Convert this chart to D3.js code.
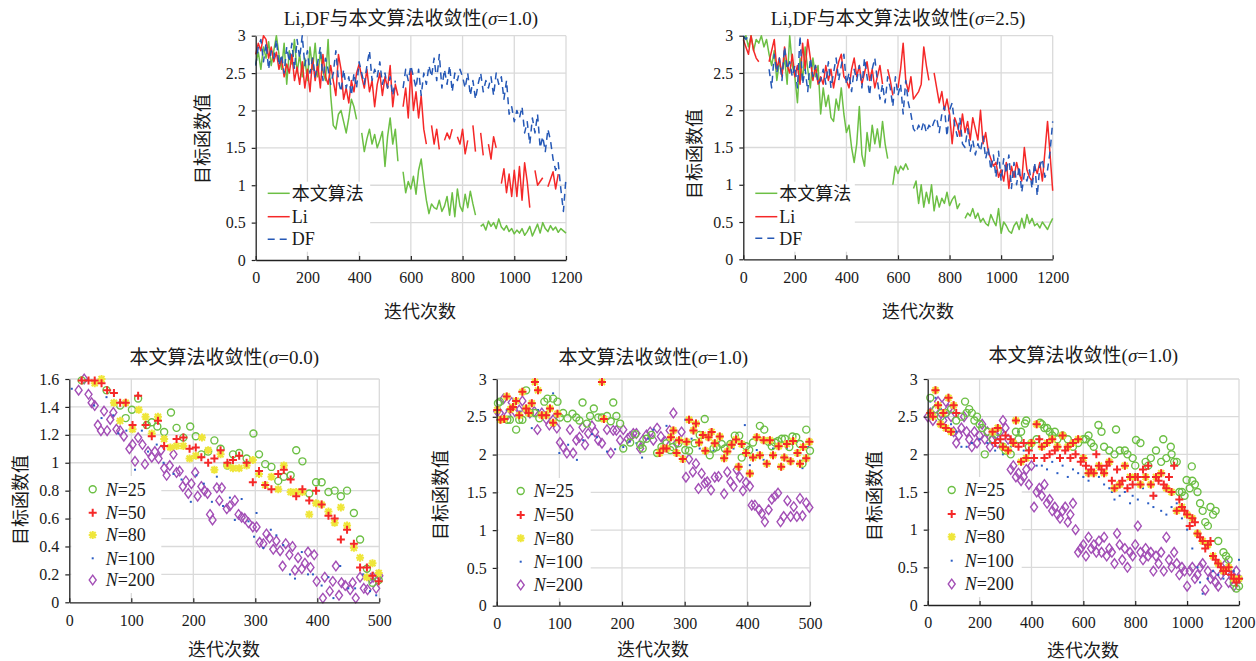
<!DOCTYPE html>
<html>
<head>
<meta charset="utf-8">
<script src="https://cdn.jsdelivr.net/npm/d3@7"></script>
<style>
  body { margin: 0; background: #fff; }
  svg { display: block; }
  svg text { font-family: "Liberation Serif", "Times New Roman", "Noto Sans CJK SC", serif; fill: #1a1a1a; }
</style>
</head>
<body>
<script>
const W = 1256, H = 661;

// ---- data ----
const iters = d3.range(0, 1201, 10);
const ticks1200 = [0, 200, 400, 600, 800, 1000, 1200];
const ticks500 = [0, 100, 200, 300, 400, 500];
const ticks3 = [0, 0.5, 1, 1.5, 2, 2.5, 3];
const ticks16 = [0, 0.2, 0.4, 0.6, 0.8, 1, 1.2, 1.4, 1.6];

// top left, sigma = 1.0
const p1Green = [2.62,2.78,2.55,2.85,2.70,2.92,2.60,2.80,3.00,2.75,
  2.55,2.90,2.35,2.80,2.62,2.95,2.50,2.75,2.45,2.70,
  2.40,2.85,2.55,2.90,2.45,2.78,2.52,2.40,2.95,2.20,
  1.80,1.75,1.95,2.00,1.85,1.70,1.90,2.15,2.05,1.88,
  null,1.70,1.45,1.62,1.75,1.55,1.68,1.50,1.60,1.72,
  1.25,1.65,1.90,1.55,1.75,1.32,null,1.18,0.90,1.05,
  0.95,1.12,0.88,1.20,1.35,1.05,0.80,0.62,0.75,0.70,
  0.68,0.80,0.65,0.72,0.85,0.60,0.90,0.58,0.95,0.72,
  0.65,0.88,0.70,0.92,0.75,0.60,null,0.45,0.48,0.40,
  0.52,0.45,0.50,0.42,0.55,0.44,0.40,0.46,0.38,0.42,
  0.35,0.40,0.36,0.42,0.33,0.38,0.45,0.32,0.40,0.48,
  0.36,0.50,0.42,0.38,0.46,0.40,0.44,0.37,0.42,0.39,
  0.36];
const p1Li = [2.75,2.90,2.80,3.00,2.95,2.70,2.85,2.65,2.78,2.55,
  2.70,2.45,2.62,2.50,2.75,2.40,2.58,2.35,2.65,2.30,
  2.55,2.25,2.70,2.40,2.62,2.30,2.75,2.45,2.35,2.60,
  2.40,2.20,2.75,2.55,2.15,2.30,2.10,2.40,2.25,2.50,
  2.62,2.45,2.30,2.55,2.25,2.40,2.05,2.35,2.50,2.20,
  2.45,2.30,2.60,2.05,2.35,2.20,null,2.05,2.30,1.90,
  2.55,2.00,2.25,1.90,2.20,1.75,1.55,null,1.80,1.55,
  1.75,1.48,null,1.60,1.70,1.62,1.75,null,1.65,1.55,
  1.75,1.42,1.60,null,1.80,1.45,null,1.70,1.40,null,
  1.55,1.35,1.65,1.50,null,1.02,1.22,0.90,1.15,0.85,
  1.20,0.85,1.25,0.80,1.30,1.05,0.70,null,1.20,1.00,
  1.05,1.10,null,0.98,1.08,1.18,0.95,1.15,null,null,
  null];
const p1DF = [2.60,2.85,2.95,2.65,2.90,2.55,2.80,2.70,2.95,2.60,
  2.75,2.50,2.85,2.65,2.90,2.55,2.95,2.70,3.00,2.60,
  2.80,2.50,2.70,2.45,2.65,2.85,2.40,2.70,2.55,2.35,
  2.50,2.80,2.40,2.25,2.55,2.30,2.45,2.20,2.50,2.30,
  2.65,2.50,2.35,2.60,2.80,2.40,2.55,2.45,2.65,2.35,
  2.50,2.30,2.45,2.20,2.40,null,null,2.30,2.55,2.40,
  2.60,2.45,2.30,2.55,2.20,2.50,2.35,2.60,2.45,2.70,
  2.40,2.75,2.30,2.55,2.35,2.60,2.25,2.50,2.40,2.55,
  2.45,2.30,2.50,2.20,2.40,2.15,2.35,2.50,2.25,2.40,
  2.30,2.45,2.20,2.50,2.35,2.45,2.15,2.40,1.95,2.05,
  1.85,2.00,1.90,2.05,1.70,1.85,1.55,1.90,1.70,1.95,
  1.50,1.65,1.45,1.75,1.60,1.35,1.20,1.30,0.95,0.65,
  1.10];

// top right, sigma = 2.5
const p2Green = [2.95,3.00,2.85,3.00,2.80,2.95,2.90,3.00,2.85,2.95,
  2.75,2.60,2.80,2.40,2.65,2.50,2.70,2.35,3.00,2.60,
  2.45,2.10,2.70,2.40,2.85,2.55,2.30,2.70,2.45,2.60,
  1.95,2.30,2.05,2.20,1.90,1.85,2.15,2.00,2.30,1.95,
  1.70,1.80,1.50,1.30,1.55,2.05,1.40,1.25,1.70,1.45,
  1.80,1.55,1.75,1.50,1.85,1.55,1.35,null,1.00,1.25,
  1.15,1.25,1.20,1.28,1.20,null,0.95,1.05,0.75,1.00,
  0.70,0.90,0.75,1.00,0.65,0.85,0.70,0.82,0.75,0.90,
  0.72,0.80,0.85,0.68,0.75,null,0.55,0.62,0.58,0.68,
  0.55,0.62,0.50,0.55,0.48,0.45,0.60,0.52,0.45,0.68,
  0.35,0.50,0.45,0.38,0.35,0.45,0.50,0.40,0.55,0.42,
  0.60,0.48,0.55,0.45,0.48,0.42,0.50,0.45,0.40,0.48,
  0.55];
const p2Li = [2.95,2.85,2.75,3.00,2.80,2.70,2.65,null,null,null,
  2.65,2.80,2.95,2.55,2.70,2.45,2.85,2.60,2.50,2.75,
  2.45,2.60,2.35,2.90,2.55,2.95,2.70,2.40,2.60,2.35,
  2.45,2.35,2.60,2.40,2.55,2.30,2.50,2.65,2.75,2.45,
  2.40,2.30,2.55,2.70,2.45,2.60,2.35,2.50,2.65,2.40,
  2.55,2.30,2.45,2.60,2.35,null,2.55,2.40,2.20,null,
  2.30,2.55,2.90,2.40,2.25,2.45,2.15,2.20,2.25,2.35,
  2.85,2.60,2.40,null,2.50,2.30,2.10,2.25,2.00,2.15,
  1.95,1.55,1.90,1.80,1.65,1.95,1.70,1.85,1.60,1.90,
  1.75,1.60,2.00,1.55,1.70,1.45,1.35,1.25,1.30,1.10,
  1.20,1.05,1.30,0.95,1.25,1.10,1.30,1.15,1.05,1.50,
  1.20,1.10,1.05,1.25,1.15,1.30,1.05,1.45,1.85,1.40,
  0.92];
const p2DF = [3.00,2.95,3.00,null,null,null,null,null,null,null,
  2.55,2.30,2.75,2.50,2.70,2.40,2.85,2.55,2.65,2.45,
  2.60,2.30,3.00,2.35,2.55,2.25,2.70,2.45,2.60,2.35,
  2.40,2.55,2.35,2.65,2.30,2.50,2.70,2.40,2.60,2.75,
  2.35,2.50,2.25,2.55,2.40,2.60,2.30,2.70,2.45,2.20,
  2.55,2.70,2.40,2.15,2.35,2.10,2.45,2.30,2.05,2.45,
  2.20,2.35,1.95,2.40,2.10,1.95,1.75,1.70,1.80,1.72,
  1.85,1.70,1.80,1.75,1.85,1.90,1.70,1.95,2.05,1.65,
  2.00,2.10,1.80,1.65,1.90,1.55,1.50,1.75,1.45,1.60,
  1.40,1.55,1.45,1.65,1.35,1.50,1.20,1.40,1.10,1.45,
  1.05,1.35,1.15,1.40,0.95,1.30,1.00,1.25,0.90,1.15,
  1.05,1.20,0.95,1.30,0.85,1.25,1.35,1.10,1.20,1.45,
  1.85];

// bottom left, sigma = 0.0  ([iteration, value])
const p3N25 = [[20,1.59],[60,1.52],[82,1.41],[91,1.32],[101,1.38],[111,1.46],[125,1.27],[133,1.29],[142,1.26],[153,1.22],
  [164,1.36],[173,1.25],[184,1.18],[195,1.26],[204,1.19],[213,1.06],[224,1.08],[234,1.16],[244,1.10],[255,0.98],
  [264,1.06],[274,1.07],[286,1.03],[297,1.21],[306,1.06],[316,0.99],[326,0.97],[337,0.87],[346,0.90],[357,0.91],
  [366,1.09],[376,1.01],[387,0.78],[398,0.86],[407,0.86],[418,0.79],[428,0.80],[438,0.76],[448,0.80],[459,0.64],
  [469,0.45],[480,0.24],[489,0.14],[499,0.16]];
const p3N50 = [[20,1.59],[31,1.59],[41,1.59],[52,1.57],[61,1.52],[72,1.50],[82,1.43],[91,1.43],[102,1.27],[111,1.48],
  [123,1.27],[133,1.19],[143,1.30],[153,1.12],[173,1.17],[184,1.18],[194,1.10],[204,1.11],[213,1.04],[224,1.00],
  [234,1.03],[244,1.09],[255,1.00],[264,1.02],[274,1.05],[286,1.00],[296,0.86],[306,0.94],[316,0.84],[326,0.81],
  [337,0.92],[346,0.95],[357,0.88],[366,0.76],[376,0.81],[387,0.73],[398,0.80],[407,0.70],[418,0.62],[428,0.60],
  [438,0.45],[448,0.52],[459,0.42],[469,0.25],[480,0.25],[489,0.19],[499,0.15]];
const p3N80 = [[41,1.57],[52,1.60],[72,1.43],[82,1.30],[91,1.43],[102,1.24],[112,1.38],[123,1.33],[133,1.21],[143,1.33],
  [153,1.17],[163,1.11],[173,1.12],[184,1.12],[194,1.03],[204,1.05],[214,1.18],[224,1.09],[234,0.95],[244,1.06],
  [255,0.98],[264,0.96],[274,0.96],[286,0.98],[296,1.02],[306,0.92],[316,0.84],[326,0.90],[337,0.81],[346,0.98],
  [357,0.79],[366,0.79],[376,0.79],[387,0.63],[398,0.71],[407,0.70],[418,0.65],[428,0.57],[438,0.68],[448,0.55],
  [459,0.39],[469,0.32],[480,0.18],[489,0.28],[499,0.21]];
const p3N100 = [[4,1.53],[27,1.59],[40,1.41],[52,1.32],[60,1.47],[71,1.34],[79,1.21],[92,1.23],[106,0.95],[117,1.23],
  [127,1.08],[141,1.13],[152,1.00],[168,0.92],[181,0.88],[196,0.72],[205,0.91],[217,0.85],[230,0.72],[238,0.90],
  [248,0.69],[259,0.75],[267,0.59],[278,0.74],[289,0.58],[298,0.47],[302,0.64],[313,0.39],[325,0.52],[334,0.48],
  [345,0.41],[356,0.20],[364,0.17],[375,0.36],[385,0.20],[393,0.20],[407,0.12],[418,0.18],[426,0.03],[437,0.26],
  [450,0.10],[461,0.10],[474,0.20],[485,0.08],[495,0.05]];
const p3N200 = [[15,1.52],[24,1.60],[31,1.49],[36,1.43],[41,1.41],[46,1.27],[51,1.23],[56,1.37],[61,1.23],[66,1.31],
  [71,1.36],[76,1.24],[82,1.23],[88,1.19],[97,1.10],[102,1.13],[106,1.01],[111,1.18],[118,1.13],[122,0.99],
  [127,1.08],[133,1.04],[138,1.08],[144,1.03],[148,1.09],[153,0.96],[157,0.91],[162,0.98],[168,1.06],[173,0.93],
  [178,0.94],[183,0.83],[188,0.87],[192,0.78],[197,0.85],[203,0.93],[207,0.76],[213,0.83],[218,0.80],[223,0.78],
  [227,0.63],[231,0.59],[238,0.82],[242,0.73],[246,0.82],[254,0.67],[259,0.69],[267,0.73],[273,0.63],[278,0.61],
  [283,0.60],[289,0.57],[296,0.54],[302,0.54],[307,0.43],[313,0.42],[318,0.49],[323,0.46],[329,0.38],[334,0.44],
  [340,0.37],[344,0.26],[349,0.42],[355,0.34],[360,0.40],[364,0.23],[369,0.32],[375,0.24],[380,0.28],[385,0.36],
  [389,0.25],[395,0.34],[399,0.15],[409,0.03],[412,0.18],[420,0.08],[425,0.15],[430,0.26],[435,0.05],[439,0.14],
  [445,0.12],[453,0.09],[457,0.14],[462,0.03],[469,0.18],[475,0.10],[481,0.09],[486,0.17],[490,0.18],[495,0.10],
  [500,0.19]];

// bottom middle, sigma = 1.0
const p4N25 = [[2,2.68],[5,2.70],[17,2.46],[21,2.46],[31,2.33],[36,2.46],[41,2.46],[47,2.85],[53,2.55],[61,2.55],
  [68,2.48],[76,2.70],[81,2.74],[90,2.74],[97,2.70],[101,2.49],[106,2.55],[113,2.48],[121,2.54],[127,2.49],
  [132,2.45],[137,2.69],[144,2.41],[149,2.51],[155,2.61],[162,2.49],[168,2.49],[176,2.51],[182,2.44],[186,2.69],
  [191,2.51],[197,2.41],[202,2.08],[213,2.16],[221,2.27],[229,2.13],[233,2.08],[239,2.21],[247,2.26],[256,2.02],
  [263,2.10],[271,2.15],[277,2.06],[281,2.10],[290,2.15],[301,2.06],[307,2.05],[316,2.15],[324,2.26],[332,2.47],
  [340,1.99],[346,2.08],[351,2.10],[359,2.14],[364,2.08],[373,2.14],[380,2.25],[387,2.25],[391,1.96],[398,2.11],
  [403,2.06],[409,2.16],[420,2.38],[427,2.33],[434,2.17],[439,2.11],[444,2.16],[449,2.18],[455,2.21],[460,2.21],
  [467,2.10],[472,2.24],[478,2.23],[484,2.14],[488,1.88],[494,2.33],[500,2.05]];
const p4N50 = [[1,2.59],[6,2.46],[12,2.47],[16,2.77],[22,2.60],[26,2.63],[31,2.71],[36,2.52],[41,2.83],[47,2.61],
  [51,2.55],[56,2.68],[61,2.96],[66,2.85],[72,2.52],[79,2.52],[85,2.61],[90,2.42],[97,2.54],[168,2.96],
  [171,2.47],[260,2.02],[266,2.08],[271,2.08],[278,2.23],[282,2.32],[287,2.02],[291,2.19],[297,1.94],[303,2.17],
  [307,2.46],[314,2.32],[318,2.41],[323,2.16],[329,2.26],[333,2.05],[338,2.23],[343,2.30],[348,2.15],[356,2.24],
  [363,1.95],[368,2.04],[375,2.13],[382,2.20],[386,1.84],[391,2.14],[398,2.02],[404,1.75],[409,1.96],[415,2.23],
  [420,1.99],[426,2.19],[431,1.88],[436,2.19],[441,1.99],[450,2.11],[454,1.84],[459,1.96],[463,2.14],[469,1.91],
  [473,2.18],[480,2.02],[484,1.88],[489,2.10],[494,1.95],[499,2.17]];
const p4N80 = [[1,2.59],[6,2.46],[12,2.47],[16,2.77],[22,2.60],[26,2.63],[31,2.71],[36,2.52],[41,2.83],[47,2.61],
  [51,2.55],[56,2.68],[61,2.96],[66,2.85],[72,2.52],[79,2.52],[85,2.61],[90,2.42],[97,2.54],[168,2.96],
  [171,2.47],[260,2.02],[266,2.08],[271,2.08],[278,2.23],[282,2.32],[287,2.02],[291,2.19],[297,1.94],[303,2.17],
  [307,2.46],[314,2.32],[318,2.41],[323,2.16],[329,2.26],[333,2.05],[338,2.23],[343,2.30],[348,2.15],[356,2.24],
  [363,1.95],[368,2.04],[375,2.13],[382,2.20],[386,1.84],[391,2.14],[398,2.02],[404,1.75],[409,1.96],[415,2.23],
  [420,1.99],[426,2.19],[431,1.88],[436,2.19],[441,1.99],[450,2.11],[454,1.84],[459,1.96],[463,2.14],[469,1.91],
  [473,2.18],[480,2.02],[484,1.88],[489,2.10],[494,1.95],[499,2.17]];
const p4N100 = [[4,2.61],[16,2.59],[37,2.57],[56,2.35],[66,2.59],[90,2.81],[100,2.02],[114,2.13],[128,1.93],[138,2.19],
  [152,2.27],[160,2.23],[176,2.04],[189,2.07],[202,2.10],[212,2.17],[223,2.15],[232,1.96],[242,2.21],[250,2.33],
  [271,2.38],[301,2.46],[311,2.21],[324,2.08],[335,2.26],[346,2.05],[354,2.16],[367,2.13],[378,2.08],[396,2.39],
  [404,1.86],[415,2.06],[426,1.93],[441,2.08],[452,1.82],[463,2.08],[479,2.17],[488,1.82],[497,2.10]];
const p4N200 = [[1,2.57],[5,2.55],[11,2.74],[17,2.52],[24,2.69],[29,2.57],[36,2.59],[41,2.71],[47,2.59],[53,2.55],
  [60,2.57],[65,2.33],[72,2.55],[79,2.47],[84,2.39],[90,2.46],[96,2.35],[101,2.16],[106,2.10],[112,2.02],
  [117,2.33],[122,2.02],[127,2.19],[132,2.23],[137,2.36],[141,2.13],[146,2.28],[152,2.38],[157,2.30],[162,2.19],
  [168,2.15],[176,2.33],[182,2.02],[186,2.32],[191,2.32],[197,2.19],[202,2.33],[209,2.21],[213,2.24],[218,2.28],
  [223,2.28],[229,2.08],[233,2.19],[239,2.26],[245,2.30],[250,2.19],[256,2.35],[262,2.24],[269,2.17],[276,2.32],
  [282,2.55],[287,2.15],[295,2.30],[302,1.70],[307,1.94],[313,1.77],[318,1.88],[322,1.55],[327,1.75],[332,1.62],
  [336,1.64],[342,1.53],[348,1.70],[354,1.71],[363,1.48],[368,1.77],[373,1.64],[378,1.58],[383,1.80],[388,1.70],
  [393,1.52],[398,1.63],[404,1.58],[407,1.33],[412,1.33],[419,1.27],[423,1.22],[428,1.11],[434,1.27],[439,1.41],
  [444,1.45],[449,1.49],[453,1.11],[458,1.18],[464,1.39],[469,1.18],[474,1.31],[479,1.18],[484,1.42],[488,1.19],
  [494,1.36],[499,1.30]];

// bottom right, sigma = 1.0
const p5N25 = [[10,2.75],[30,2.6],[50,2.5],[70,2.55],[90,2.6],[110,2.45],[130,2.5],[144,2.7],[150,2.55],[160,2.6],
  [170,2.55],[180,2.45],[190,2.5],[200,2.4],[210,2.35],[220,2.0],[230,2.3],[250,2.2],[270,2.3],[290,2.1],
  [300,2.05],[320,2.0],[340,2.3],[350,2.2],[360,2.3],[375,2.41],[380,2.45],[390,2.1],[400,2.15],[420,2.2],
  [433,2.42],[440,2.4],[450,2.35],[460,2.35],[470,2.3],[480,2.25],[490,2.3],[500,2.2],[520,2.25],[540,2.2],
  [560,2.1],[580,2.15],[600,2.2],[610,2.2],[620,2.25],[630,2.15],[640,2.1],[658,2.39],[670,2.3],[680,2.1],
  [700,2.05],[720,2.0],[726,2.33],[740,2.05],[760,2.05],[770,2.0],[790,1.95],[800,1.85],[803,2.19],[820,2.15],
  [840,1.9],[850,1.85],[860,1.95],[880,2.05],[900,1.9],[908,2.2],[920,1.95],[937,2.1],[940,2.0],[950,1.9],
  [960,1.9],[970,1.5],[980,1.5],[990,1.45],[998,1.66],[1010,1.55],[1018,1.84],[1020,1.65],[1030,1.6],[1040,1.5],
  [1050,1.35],[1060,1.25],[1070,1.1],[1080,1.05],[1090,1.3],[1100,1.2],[1110,1.25],[1120,0.85],[1140,0.7],[1150,0.65],
  [1160,0.6],[1180,0.3],[1190,0.22],[1200,0.25]];
const p5N50 = [[10,2.55],[20,2.5],[30,2.85],[40,2.65],[50,2.4],[60,2.55],[70,2.35],[80,2.75],[90,2.3],[100,2.65],
  [110,2.55],[250,2.3],[260,2.15],[270,2.35],[280,2.2],[290,2.1],[300,2.25],[310,2.05],[320,2.2],[330,2.15],
  [340,2.45],[350,2.1],[360,1.9],[370,2.15],[380,1.95],[390,2.05],[400,2.15],[410,1.95],[420,2.4],[430,2.2],
  [440,2.1],[450,1.95],[460,2.15],[470,2.0],[480,2.2],[490,2.05],[500,2.1],[510,1.95],[520,2.25],[530,2.05],
  [540,2.1],[550,1.95],[560,2.15],[570,2.0],[580,2.2],[590,1.9],[600,1.95],[610,1.85],[620,1.75],[630,1.8],
  [640,1.75],[650,2.0],[660,1.85],[670,1.8],[680,1.75],[690,1.85],[700,1.9],[710,1.65],[720,1.55],[730,1.8],
  [740,1.6],[750,1.65],[760,1.85],[770,1.55],[780,1.7],[790,1.6],[800,1.7],[810,1.7],[820,1.6],[830,1.8],
  [840,1.7],[850,1.85],[860,1.6],[870,1.45],[880,1.7],[890,1.65],[900,1.75],[910,1.6],[920,1.55],[930,1.7],
  [940,1.5],[950,1.85],[960,1.25],[970,1.4],[980,1.3],[990,1.25],[1000,1.2],[1010,1.05],[1020,1.15],[1030,1.1],
  [1040,0.95],[1050,0.9],[1060,0.85],[1070,0.75],[1080,0.8],[1090,0.85],[1100,0.65],[1110,0.6],[1120,0.55],[1130,0.5],
  [1140,0.45],[1150,0.45],[1160,0.5],[1170,0.4],[1180,0.35],[1190,0.3],[1200,0.35]];
const p5N80 = [[10,2.55],[20,2.5],[30,2.85],[40,2.65],[50,2.4],[60,2.55],[70,2.35],[80,2.75],[90,2.3],[100,2.65],
  [250,2.3],[270,2.35],[290,2.1],[310,2.05],[330,2.15],[340,2.45],[360,1.9],[380,1.95],[400,2.15],[420,2.4],
  [440,2.1],[460,2.15],[480,2.2],[500,2.1],[520,2.25],[540,2.1],[560,2.15],[580,2.2],[600,1.95],[620,1.75],
  [640,1.75],[660,1.85],[680,1.75],[700,1.9],[720,1.55],[740,1.6],[760,1.85],[780,1.7],[800,1.7],[820,1.6],
  [840,1.7],[860,1.6],[880,1.7],[900,1.75],[920,1.55],[940,1.5],[960,1.25],[980,1.3],[1000,1.2],[1020,1.15],
  [1040,0.95],[1060,0.85],[1080,0.8],[1100,0.65],[1120,0.55],[1140,0.45],[1160,0.5],[1180,0.35],[1200,0.35]];
const p5N100 = [[10,2.7],[30,2.75],[50,2.6],[70,2.5],[90,2.4],[110,2.3],[130,2.1],[150,2.1],[170,2.15],[200,2.2],
  [230,2.15],[260,2.05],[290,2.0],[320,2.1],[350,2.3],[370,2.05],[400,1.95],[420,1.85],[440,1.85],[460,1.8],
  [480,1.9],[500,1.75],[520,1.85],[540,1.7],[560,1.8],[580,1.75],[600,1.7],[620,1.65],[640,1.75],[660,1.7],
  [680,1.6],[700,1.55],[710,1.5],[720,1.4],[740,1.45],[760,1.5],[780,1.35],[790,1.45],[810,1.4],[830,1.55],
  [850,1.35],[870,1.3],[880,1.45],[900,1.25],[920,1.2],[940,1.3],[960,1.35],[980,1.15],[1000,1.0],[1020,0.75],
  [1040,0.5],[1050,0.3],[1060,0.15],[1080,0.35],[1100,0.45],[1120,0.4],[1140,0.35],[1160,0.5],[1180,0.45],[1200,0.6]];
const p5N200 = [[0,2.5],[10,2.55],[20,2.45],[30,2.6],[40,2.7],[50,2.55],[60,2.45],[70,2.7],[80,2.6],[90,2.5],
  [100,2.3],[110,2.15],[120,2.25],[130,2.35],[140,2.5],[150,2.3],[160,2.2],[170,2.1],[180,2.3],[190,2.15],
  [200,2.25],[210,2.4],[220,2.2],[230,2.3],[240,2.1],[250,2.2],[260,2.25],[270,2.15],[280,2.3],[290,2.45],
  [300,2.35],[310,2.2],[320,1.8],[330,1.85],[340,1.7],[350,1.75],[360,1.65],[370,1.7],[380,1.8],[390,1.6],
  [400,1.85],[410,1.3],[420,1.5],[430,1.55],[440,1.45],[450,1.6],[460,1.35],[470,1.4],[480,1.25],[490,1.3],
  [500,1.2],[510,1.15],[520,1.25],[530,1.3],[540,1.1],[550,1.2],[560,1.35],[570,1.0],[580,0.7],[590,0.75],
  [600,0.8],[610,0.65],[620,0.9],[630,0.75],[640,0.8],[650,0.7],[660,0.85],[670,0.7],[680,0.9],[690,0.65],
  [700,0.75],[710,0.7],[720,0.55],[730,0.95],[740,0.8],[750,0.6],[760,0.75],[770,0.5],[780,0.7],[790,0.65],
  [800,0.8],[810,1.05],[820,0.7],[830,0.6],[840,0.75],[850,0.65],[860,0.7],[870,0.45],[880,0.65],[890,0.55],
  [900,0.7],[910,0.45],[920,0.9],[930,0.6],[940,0.5],[950,0.7],[960,0.55],[970,0.4],[980,0.5],[990,0.45],
  [1000,0.25],[1010,0.45],[1020,0.5],[1030,0.35],[1040,0.4],[1050,0.5],[1060,0.55],[1070,0.2],[1080,0.45],[1090,0.35],
  [1100,0.4],[1110,0.3],[1120,0.25],[1130,0.4],[1140,0.45],[1150,0.55],[1160,0.3],[1170,0.4],[1180,0.25],[1190,0.45],
  [1200,0.35]];

// ---- styles ----
const COL = { green: "#6cbf44", red: "#f52828", blue: "#2558b6", yellow: "#efe63a", dot: "#2a5cc4", purple: "#a34fb6" };
const lineStyles = [
  { label: "本文算法", color: COL.green, dash: null },
  { label: "Li", color: COL.red, dash: null },
  { label: "DF", color: COL.blue, dash: "7,5" }
];
const scatterStyles = [
  { n: "25", shape: "circle" },
  { n: "50", shape: "plus" },
  { n: "80", shape: "star" },
  { n: "100", shape: "dot" },
  { n: "200", shape: "diamond" }
];

const svg = d3.select("body").append("svg").attr("width", W).attr("height", H);
svg.append("rect").attr("width", W).attr("height", H).attr("fill", "#fff");

function addMarker(sel, shape) {
  if (shape === "circle") {
    sel.append("circle").attr("r", 3.5).attr("fill", "none").attr("stroke", COL.green).attr("stroke-width", 1.4);
  } else if (shape === "plus") {
    sel.append("path").attr("d", "M-4,0H4M0,-4V4").attr("stroke", COL.red).attr("stroke-width", 2);
  } else if (shape === "star") {
    sel.append("path").attr("d", "M-4,0H4M0,-4V4M-3,-3L3,3M-3,3L3,-3").attr("stroke", COL.yellow).attr("stroke-width", 2);
  } else if (shape === "dot") {
    sel.append("rect").attr("x", -1).attr("y", -1).attr("width", 2).attr("height", 2).attr("fill", COL.dot);
  } else {
    sel.append("path").attr("d", "M0,-4.8L3.5,0L0,4.8L-3.5,0Z").attr("fill", "none").attr("stroke", COL.purple).attr("stroke-width", 1.4);
  }
}

function drawPanel(p) {
  const w = p.x1 - p.x0, h = p.y1 - p.y0;
  const g = svg.append("g").attr("transform", `translate(${p.x0},${p.y0})`);
  const x = d3.scaleLinear().domain([0, p.xTicks[p.xTicks.length - 1]]).range([0, w]);
  const y = d3.scaleLinear().domain([0, p.yTicks[p.yTicks.length - 1]]).range([h, 0]);

  // grid
  g.append("g").selectAll("line").data(p.xTicks.filter(d => d > 0)).join("line")
    .attr("x1", d => x(d)).attr("x2", d => x(d)).attr("y1", 0).attr("y2", h)
    .attr("stroke", "#dadada").attr("stroke-width", 1.3);
  g.append("g").selectAll("line").data(p.yTicks.filter(d => d > 0)).join("line")
    .attr("x1", 0).attr("x2", w).attr("y1", d => y(d)).attr("y2", d => y(d))
    .attr("stroke", "#dadada").attr("stroke-width", 1.3);

  // legend background covers the grid
  g.append("rect").attr("x", p.box[0]).attr("y", p.box[1]).attr("width", p.box[2]).attr("height", p.box[3]).attr("fill", "#fff");

  if (p.lines) {
    p.lines.forEach((vals, i) => {
      const st = lineStyles[i];
      const line = d3.line().defined((d, j) => vals[j] != null).x((d, j) => x(iters[j])).y((d, j) => y(vals[j]));
      g.append("path").datum(vals).attr("d", line).attr("fill", "none")
        .attr("stroke", st.color).attr("stroke-width", 1.5)
        .attr("stroke-dasharray", st.dash).attr("stroke-linejoin", "round");
    });
  } else {
    // draw order: 200, 100, 25, 80, 50
    [4, 3, 0, 2, 1].forEach(k => {
      const st = scatterStyles[k];
      g.append("g").selectAll("g").data(p.points[k]).join("g")
        .attr("transform", d => `translate(${x(d[0])},${y(d[1])})`)
        .each(function () { addMarker(d3.select(this), st.shape); });
    });
  }

  // axes
  const ya = g.append("g").call(d3.axisLeft(y).tickValues(p.yTicks).tickSize(4).tickSizeOuter(0).tickPadding(6).tickFormat(d3.format("~g")));
  const xa = g.append("g").attr("transform", `translate(0,${h})`)
    .call(d3.axisBottom(x).tickValues(p.xTicks).tickSizeInner(-4).tickSizeOuter(0).tickPadding(12).tickFormat(d3.format("d")));
  [ya, xa].forEach(a => {
    a.attr("font-family", null).attr("font-size", null);
    a.select(".domain").attr("stroke", "#222").attr("stroke-width", 1.3);
    a.selectAll(".tick line").attr("stroke", "#222").attr("stroke-width", 1.2);
    a.selectAll(".tick text").style("font-size", "16px");
  });

  // title
  const t = svg.append("text").attr("x", (p.x0 + p.x1) / 2).attr("y", p.titleY)
    .attr("text-anchor", "middle").style("font-size", "19px");
  t.append("tspan").text(p.title[0]);
  t.append("tspan").attr("font-style", "italic").text("σ");
  t.append("tspan").text(p.title[1]);

  svg.append("text").attr("x", p.xLab[0]).attr("y", p.xLab[1]).attr("dy", "0.35em")
    .attr("text-anchor", "middle").style("font-size", "18px").text("迭代次数");
  svg.append("text").attr("transform", `translate(${p.yLab[0]},${p.yLab[1]}) rotate(-90)`).attr("dy", "0.35em")
    .attr("text-anchor", "middle").style("font-size", "18px").text("目标函数值");

  // legend
  const lg = g.append("g");
  if (p.lines) {
    lineStyles.forEach((st, i) => {
      const yy = p.legRows[i];
      lg.append("line").attr("x1", 12).attr("x2", 34).attr("y1", yy).attr("y2", yy)
        .attr("stroke", st.color).attr("stroke-width", 1.5).attr("stroke-dasharray", st.dash);
      lg.append("text").attr("x", 36).attr("y", yy).attr("dy", "0.35em")
        .style("font-size", "18px").text(st.label);
    });
  } else {
    scatterStyles.forEach((st, i) => {
      const yy = p.legRows[i];
      addMarker(lg.append("g").attr("transform", `translate(${p.legX},${yy})`), st.shape);
      const tx = lg.append("text").attr("x", p.legX + 13).attr("y", yy).attr("dy", "0.35em")
        .style("font-size", "18px");
      tx.append("tspan").attr("font-style", "italic").text("N");
      tx.append("tspan").text("=" + st.n);
    });
  }
}

const panels = [
  { x0: 255.7, x1: 566, y0: 35.7, y1: 260, xTicks: ticks1200, yTicks: ticks3,
    title: ["Li,DF与本文算法收敛性(", "=1.0)"], titleY: 25, xLab: [420, 312], yLab: [203, 139],
    box: [1.5, 146, 113, 70], legRows: [157.6, 181, 203.5], lines: [p1Green, p1Li, p1DF] },
  { x0: 743.3, x1: 1052.7, y0: 35.7, y1: 259.3, xTicks: ticks1200, yTicks: ticks3,
    title: ["Li,DF与本文算法收敛性(", "=2.5)"], titleY: 25, xLab: [918, 312], yLab: [695, 154],
    box: [1.5, 146, 110, 70], legRows: [157.6, 181, 202.6], lines: [p2Green, p2Li, p2DF] },
  { x0: 69.3, x1: 379.3, y0: 379, y1: 602.3, xTicks: ticks500, yTicks: ticks16,
    title: ["本文算法收敛性(", "=0.0)"], titleY: 364, xLab: [224, 650], yLab: [20.5, 500],
    box: [2, 97, 90, 117], legX: 23.4, legRows: [110.3, 133.7, 156, 179.3, 201],
    points: [p3N25, p3N50, p3N80, p3N100, p3N200] },
  { x0: 496.7, x1: 810, y0: 379, y1: 605.7, xTicks: ticks500, yTicks: ticks3,
    title: ["本文算法收敛性(", "=1.0)"], titleY: 364, xLab: [653, 650], yLab: [440.5, 495],
    box: [2, 99, 92, 120], legX: 24, legRows: [112, 136, 159.3, 182.7, 206],
    points: [p4N25, p4N50, p4N80, p4N100, p4N200] },
  { x0: 927.7, x1: 1239, y0: 379, y1: 605, xTicks: ticks1200, yTicks: ticks3,
    title: ["本文算法收敛性(", "=1.0)"], titleY: 362, xLab: [1083, 651], yLab: [874.5, 496],
    box: [2, 98, 92, 120], legX: 24, legRows: [111, 135, 157.7, 181.7, 205],
    points: [p5N25, p5N50, p5N80, p5N100, p5N200] }
];

panels.forEach(drawPanel);
</script>
</body>
</html>
